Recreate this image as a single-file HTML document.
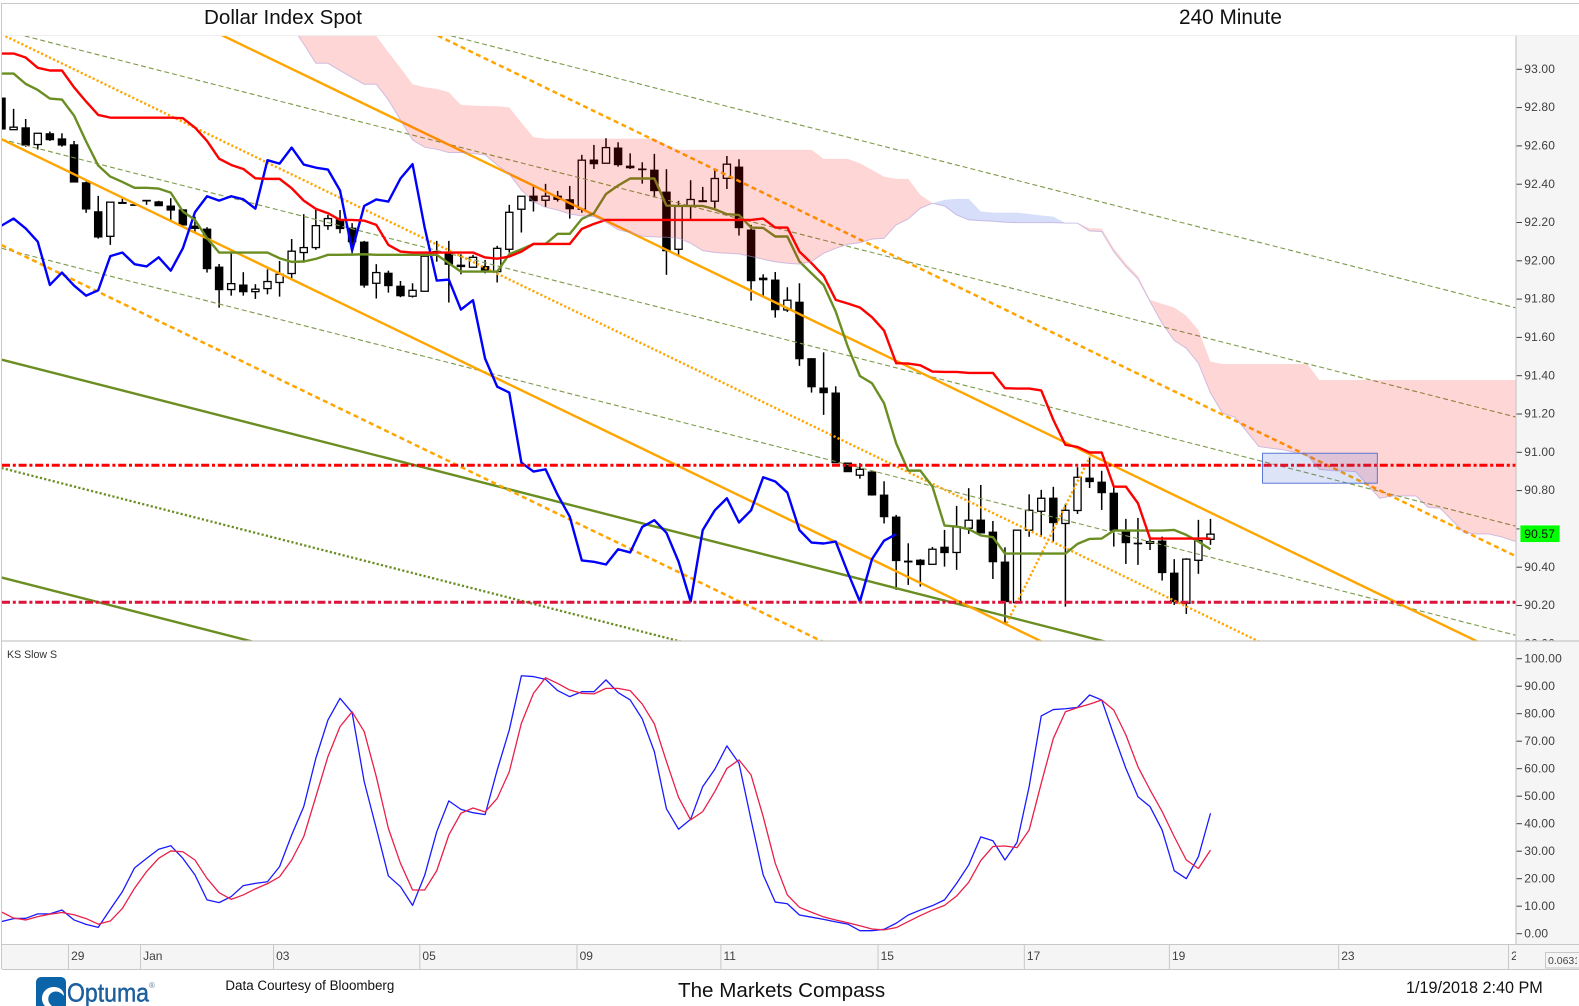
<!DOCTYPE html>
<html lang="en">
<head>
<meta charset="utf-8">
<title>Dollar Index Spot 240 Minute</title>
<style>
html,body{margin:0;padding:0;background:#fff;}
svg{display:block;font-family:"Liberation Sans",sans-serif;}
</style>
</head>
<body>
<svg id="chart" xmlns="http://www.w3.org/2000/svg" width="1579" height="1006" viewBox="0 0 1579 1006">
  <defs>
    <clipPath id="plotClip"><rect x="2" y="36" width="1514" height="605"/></clipPath>
    <clipPath id="stochClip"><rect x="2" y="642" width="1514" height="302"/></clipPath>
    <clipPath id="axisClip"><rect x="1516" y="36" width="63" height="605"/></clipPath>
    <clipPath id="timeClip"><rect x="2" y="945" width="1514" height="24"/></clipPath>
    <clipPath id="cornerClip"><rect x="1546" y="953" width="31" height="15"/></clipPath>
    <clipPath id="logoClip"><rect x="30" y="970" width="140" height="36"/></clipPath>
  </defs>
  <rect x="0" y="0" width="1579" height="1006" fill="#fff"/>
  <rect x="1516" y="36" width="63" height="908" fill="#f5f5f5"/>
  <rect x="2" y="944" width="1577" height="25" fill="#f5f5f5"/>
  <g id="plot" clip-path="url(#plotClip)"></g>
  <g id="stoch" clip-path="url(#stochClip)"></g>
  <g id="priceAxis" clip-path="url(#axisClip)"></g>
  <g id="stochAxis"></g>
  <g id="timeAxis" clip-path="url(#timeClip)"></g>
  <line x1="1.5" y1="3.5" x2="1579" y2="3.5" stroke="#c8c8c8"/>
  <line x1="1.5" y1="3" x2="1.5" y2="969" stroke="#c8c8c8"/>
  <line x1="2" y1="35.5" x2="1579" y2="35.5" stroke="#eeeeee"/>
  <line x1="2" y1="641" x2="1579" y2="641" stroke="#c8c8c8" stroke-width="1.2"/>
  <line x1="2" y1="944.5" x2="1579" y2="944.5" stroke="#c8c8c8"/>
  <line x1="2" y1="969.5" x2="1579" y2="969.5" stroke="#c8c8c8"/>
  <line x1="1516" y1="36" x2="1516" y2="944" stroke="#c8c8c8" stroke-width="1.2"/>
  <text x="204" y="24" font-size="20.6" fill="#111">Dollar Index Spot</text>
  <text x="1179" y="24" font-size="20.8" fill="#111">240 Minute</text>
  <text x="7" y="658" font-size="10.6" fill="#333">KS Slow S</text>
  <rect x="1520" y="525" width="40" height="17.5" fill="#00ff00" stroke="#fff" stroke-width="0.8"/>
  <text x="1524.3" y="538" font-size="12" letter-spacing="0.15" fill="#111">90.57</text>
  <rect x="1545.5" y="952.5" width="34" height="15.5" fill="#f5f5f5" stroke="#c8c8c8"/>
  <text x="1548" y="964" font-size="10.5" fill="#444" clip-path="url(#cornerClip)">0.0631</text>
  <g clip-path="url(#logoClip)">
    <rect x="36" y="977" width="30" height="34" rx="5" fill="#0b64a8"/>
    <path d="M45 1006 C38 998 44 986 55 987 C62 988 64 992 64 996 C60 991 54 990 50 994 C47 998 48 1003 52 1006 Z" fill="#fff"/>
    <text x="67" y="1001.5" font-size="26" fill="#1c5f9e" stroke="#1c5f9e" stroke-width="0.45" textLength="82" lengthAdjust="spacingAndGlyphs">Optuma</text>
    <text x="149" y="988" font-size="8" fill="#5a7f9e">®</text>
  </g>
  <text x="225.4" y="990" font-size="13.4" fill="#111">Data Courtesy of Bloomberg</text>
  <text x="678" y="997" font-size="20.6" fill="#111">The Markets Compass</text>
  <text x="1406" y="993" font-size="16.2" fill="#111">1/19/2018 2:40 PM</text>
</svg>
<script>
const opens=[92.856,92.691,92.700,92.613,92.669,92.642,92.611,92.412,92.260,92.132,92.309,92.297,92.320,92.312,92.290,92.270,92.185,92.169,91.970,91.853,91.876,91.842,91.858,91.890,91.937,92.047,92.073,92.188,92.218,92.174,92.101,91.886,91.938,91.870,91.818,91.844,92.052,92.040,91.980,91.970,91.973,91.947,92.064,92.274,92.342,92.321,92.342,92.323,92.274,92.531,92.515,92.594,92.499,92.484,92.478,92.363,92.064,92.290,92.318,92.316,92.436,92.494,92.164,91.912,91.902,91.746,91.786,91.490,91.336,91.310,90.943,90.880,90.896,90.775,90.660,90.429,90.434,90.413,90.502,90.475,90.602,90.644,90.581,90.424,90.212,90.592,90.691,90.759,90.627,90.695,90.864,90.843,90.785,90.585,90.523,90.523,90.534,90.366,90.209,90.434,90.544];
const highs=[92.856,92.800,92.747,92.672,92.681,92.672,92.632,92.419,92.344,92.311,92.332,92.297,92.320,92.318,92.332,92.274,92.235,92.180,91.987,92.043,91.944,91.881,91.959,92.003,92.118,92.248,92.270,92.244,92.270,92.201,92.108,91.986,91.952,91.898,91.886,92.028,92.108,92.108,92.038,92.035,92.008,92.082,92.297,92.342,92.398,92.407,92.370,92.396,92.559,92.611,92.646,92.625,92.567,92.520,92.564,92.484,92.318,92.426,92.391,92.480,92.553,92.536,92.192,91.933,91.945,91.865,91.886,91.493,91.524,91.346,90.946,90.943,90.904,90.848,90.672,90.523,90.440,90.504,90.593,90.719,90.812,90.829,90.640,90.502,90.592,90.780,90.803,90.819,90.730,90.922,90.978,90.903,90.820,90.651,90.656,90.550,90.558,90.440,90.445,90.646,90.651];
const lows=[92.695,92.691,92.602,92.587,92.632,92.602,92.414,92.255,92.120,92.087,92.305,92.295,92.297,92.293,92.218,92.192,92.157,91.942,91.758,91.821,91.821,91.804,91.828,91.816,91.912,91.994,92.061,92.166,92.148,92.043,91.863,91.806,91.837,91.813,91.811,91.844,91.999,91.785,91.933,91.968,91.938,91.890,92.047,92.152,92.262,92.286,92.314,92.225,92.256,92.485,92.515,92.497,92.485,92.408,92.335,91.930,92.029,92.221,92.314,92.279,92.380,92.136,91.795,91.818,91.706,91.736,91.453,91.313,91.196,90.946,90.899,90.862,90.773,90.627,90.279,90.305,90.296,90.413,90.401,90.384,90.572,90.576,90.336,90.104,90.209,90.557,90.558,90.530,90.191,90.677,90.813,90.698,90.506,90.415,90.410,90.488,90.328,90.200,90.153,90.363,90.515];
const closes=[92.695,92.704,92.611,92.672,92.639,92.611,92.417,92.276,92.129,92.311,92.305,92.295,92.319,92.293,92.270,92.192,92.174,91.963,91.853,91.884,91.842,91.855,91.895,91.933,92.054,92.073,92.188,92.225,92.173,92.104,91.877,91.942,91.874,91.821,91.849,92.028,92.047,91.986,91.974,92.022,91.952,92.069,92.258,92.342,92.319,92.342,92.326,92.277,92.531,92.513,92.597,92.508,92.492,92.482,92.372,92.057,92.291,92.325,92.314,92.435,92.510,92.178,91.900,91.905,91.748,91.797,91.491,91.344,91.313,90.946,90.899,90.911,90.777,90.663,90.433,90.426,90.412,90.492,90.475,90.609,90.644,90.578,90.427,90.218,90.592,90.696,90.759,90.632,90.696,90.869,90.847,90.789,90.592,90.527,90.522,90.532,90.370,90.218,90.440,90.537,90.571];
const kijunLine=[93.090,93.090,93.069,93.015,93.001,93.001,92.913,92.838,92.768,92.754,92.754,92.754,92.754,92.754,92.754,92.751,92.702,92.632,92.539,92.506,92.485,92.436,92.433,92.433,92.384,92.319,92.276,92.253,92.218,92.218,92.214,92.192,92.087,92.052,92.047,92.047,92.047,92.047,92.047,92.047,92.021,92.015,92.026,92.052,92.092,92.092,92.092,92.092,92.171,92.197,92.218,92.218,92.218,92.218,92.218,92.218,92.218,92.218,92.218,92.218,92.218,92.218,92.218,92.225,92.178,92.178,92.052,91.991,91.924,91.799,91.780,91.759,91.708,91.638,91.467,91.465,91.456,91.423,91.421,91.421,91.416,91.416,91.416,91.336,91.334,91.334,91.324,91.170,91.039,91.028,90.999,90.999,90.820,90.820,90.733,90.548,90.548,90.548,90.548,90.548,90.548];
const tenkanLine=[92.985,92.985,92.931,92.899,92.854,92.849,92.765,92.629,92.503,92.445,92.417,92.386,92.386,92.382,92.361,92.262,92.218,92.122,92.047,92.047,92.047,92.047,92.047,92.017,91.998,92.000,92.014,92.035,92.035,92.036,92.038,92.035,92.035,92.035,92.035,92.035,92.035,91.991,91.947,91.947,91.947,91.947,92.038,92.064,92.092,92.092,92.145,92.145,92.223,92.253,92.354,92.398,92.435,92.435,92.435,92.293,92.291,92.291,92.291,92.274,92.248,92.244,92.178,92.176,92.131,92.131,92.000,91.938,91.877,91.738,91.554,91.400,91.362,91.257,91.047,90.904,90.904,90.820,90.616,90.611,90.597,90.564,90.555,90.469,90.469,90.469,90.469,90.469,90.469,90.520,90.546,90.548,90.590,90.590,90.590,90.590,90.590,90.593,90.567,90.532,90.492];
const chikouLine=[92.188,92.225,92.173,92.104,91.877,91.942,91.874,91.821,91.849,92.028,92.047,91.986,91.974,92.022,91.952,92.069,92.258,92.342,92.319,92.342,92.326,92.277,92.531,92.513,92.597,92.508,92.492,92.482,92.372,92.057,92.291,92.325,92.314,92.435,92.510,92.178,91.900,91.905,91.748,91.797,91.491,91.344,91.313,90.946,90.899,90.911,90.777,90.663,90.433,90.426,90.412,90.492,90.475,90.609,90.644,90.578,90.427,90.218,90.592,90.696,90.759,90.632,90.696,90.869,90.847,90.789,90.592,90.527,90.522,90.532,90.370,90.218,90.440,90.537,90.571];
const cloudStartBar=24;
const spanA=[93.235,93.140,93.039,93.039,93.001,92.964,92.929,92.929,92.847,92.742,92.637,92.599,92.588,92.571,92.571,92.566,92.559,92.506,92.459,92.375,92.314,92.284,92.270,92.249,92.239,92.235,92.206,92.166,92.152,92.132,92.129,92.127,92.122,92.096,92.057,92.047,92.043,92.040,92.026,92.012,91.998,91.991,91.986,92.000,92.043,92.069,92.090,92.099,92.117,92.122,92.192,92.223,92.279,92.305,92.323,92.328,92.328,92.262,92.256,92.256,92.256,92.249,92.241,92.235,92.201,92.201,92.160,92.157,92.052,91.973,91.909,91.790,91.676,91.586,91.545,91.467,91.310,91.205,91.184,91.109,91.030,91.021,91.013,90.999,90.986,90.911,90.904,90.902,90.899,90.829,90.759,90.771,90.771,90.771,90.712,90.707,90.642,90.579,90.572,90.572,90.558,90.537,90.523];
const spanB=[93.266,93.266,93.266,93.266,93.266,93.266,93.266,93.182,93.097,93.015,92.929,92.913,92.905,92.887,92.821,92.817,92.815,92.814,92.808,92.728,92.651,92.644,92.644,92.644,92.644,92.644,92.644,92.644,92.644,92.644,92.644,92.611,92.585,92.585,92.585,92.585,92.585,92.585,92.585,92.585,92.585,92.585,92.585,92.585,92.538,92.538,92.538,92.515,92.480,92.445,92.433,92.433,92.349,92.305,92.291,92.244,92.218,92.214,92.211,92.206,92.204,92.204,92.204,92.204,92.201,92.201,92.174,92.173,92.069,91.991,91.924,91.799,91.778,91.759,91.715,91.641,91.475,91.463,91.463,91.463,91.463,91.463,91.463,91.463,91.463,91.379,91.379,91.379,91.379,91.379,91.379,91.379,91.379,91.379,91.379,91.379,91.379,91.379,91.379,91.379,91.379,91.379,91.379];
const stochK=[4.4,5.5,5.6,7.2,7.2,8.6,5.0,3.4,2.3,8.9,15.3,23.9,27.4,30.7,32.0,27.4,21.4,12.3,11.3,13.5,17.5,18.3,18.9,24.4,35.9,46.2,63.8,77.7,85.6,80.4,55.3,38.3,21.0,17.1,10.3,21.2,37.1,48.3,45.2,44.0,43.3,59.5,74.1,93.8,93.5,92.5,88.4,86.2,88.0,88.0,92.3,87.7,85.0,78.1,66.2,45.4,38.0,41.6,53.5,59.8,68.3,62.0,41.4,21.4,11.5,10.9,6.8,6.0,5.2,4.3,3.5,1.1,1.1,1.6,3.8,6.8,8.6,10.2,12.3,18.3,25.0,35.2,33.8,26.8,33.2,53.5,79.2,81.5,81.8,82.3,86.8,85.0,72.3,60.1,49.8,46.2,37.7,22.9,20.0,28.0,43.8];
const stochD=[7.9,5.7,5.0,6.2,7.1,7.7,6.9,5.5,3.5,4.6,9.2,16.5,22.6,27.4,30.1,29.8,26.8,20.1,14.9,12.5,14.1,16.3,18.2,20.7,26.8,35.3,49.8,64.4,75.3,80.7,73.5,57.1,38.3,25.6,15.9,15.9,22.9,35.9,43.8,45.7,44.3,49.2,58.9,76.5,87.4,93.1,91.0,88.6,87.4,87.2,89.2,89.2,88.4,83.5,76.3,62.6,49.6,41.4,44.4,51.7,60.1,63.2,57.7,42.6,25.6,14.1,9.6,7.8,6.1,5.0,4.0,2.9,1.7,1.4,2.2,4.4,6.6,8.6,10.3,13.7,18.7,26.6,31.7,31.9,31.3,37.7,54.7,71.0,80.7,82.2,83.5,85.0,81.3,72.3,60.7,52.3,44.4,35.3,26.8,23.7,30.4];
const priceTicks=[90.0,90.2,90.4,90.6,90.8,91.0,91.2,91.4,91.6,91.8,92.0,92.2,92.4,92.6,92.8,93.0];
const priceTickLabels=['90.00','90.20','90.40','','90.80','91.00','91.20','91.40','91.60','91.80','92.00','92.20','92.40','92.60','92.80','93.00'];
const stochTicks=[0,10,20,30,40,50,60,70,80,90,100];
const stochTickLabels=['0.00','10.00','20.00','30.00','40.00','50.00','60.00','70.00','80.00','90.00','100.00'];
const timeTickBars=[5.54,11.5,22.5,34.6,47.6,59.5,72.5,84.6,96.6,110.6,124.65];
const timeTickLabels=['29','Jan','03','05','09','11','15','17','19','23','25'];
const solidOrangeLines=[[0,92.641,130,88.663],[0,93.744,130,89.766]];
const dashedOrangeLines=[[0,94.288,130,90.310],[0,92.086,130,88.108]];
const dottedOrangeLines=[[0,93.191,130,89.213],[83.14,90.104,90.03,90.977]];
const dashedGreenLines=[[0,93.785,130,91.680],[0,93.213,130,91.108],[0,92.641,130,90.536],[0,92.069,130,89.964]];
const solidGreenLines=[[0,91.486,130,89.381],[0,90.344,130,88.239]];
const dottedGreenLines=[[0,90.918,130,88.813]];
const resistanceLevel=[90.932];
const supportLevel=[90.214];
const targetBox=[104.3,90.995,113.8,90.838];

function xBar(i){return 1.5+12.09*i;}
function yPrice(p){return 452.3+(91-p)*190.8;}
function yPriceTick(p){return 452.3+(91-p)*191.5;}
function yStoch(v){return 933.7-2.75*v;}
const NS='http://www.w3.org/2000/svg';
function make(parent,tag,attrs){
  const e=document.createElementNS(NS,tag);
  for(const k in attrs){e.setAttribute(k,attrs[k]);}
  parent.appendChild(e);
  return e;
}
function pts(values,yFn,start){
  return values.map(function(v,i){return xBar(i+start).toFixed(2)+','+yFn(v).toFixed(2);}).join(' ');
}
const plot=document.getElementById('plot');
const stoch=document.getElementById('stoch');
const priceAxis=document.getElementById('priceAxis');
const stochAxis=document.getElementById('stochAxis');
const timeAxis=document.getElementById('timeAxis');

closes.forEach(function(c,i){
  const o=opens[i];
  const up=c>o;
  const x=xBar(i);
  const wick=make(plot,'line',{x1:x,x2:x,y1:yPrice(highs[i]),y2:yPrice(lows[i]),stroke:'#000','stroke-width':1.5});
  
  
  const top=yPrice(Math.max(o,c));
  const bot=yPrice(Math.min(o,c));
  const body=make(plot,'rect',{x:x-3.6,y:top,width:7.2,height:Math.max(bot-top,0.4),fill:up?'#fff':'#000',stroke:'#000','stroke-width':1.3});
  
  
});

function drawTrends(list,style,name){
  list.forEach(function(t){
    const a=Object.assign({x1:xBar(t[0]),y1:yPrice(t[1]),x2:xBar(t[2]),y2:yPrice(t[3]),fill:'none'},style);
    const l=make(plot,'line',a);
    
    
  });
}
drawTrends(dashedGreenLines,{stroke:'#7d9a4a','stroke-width':1.1,'stroke-dasharray':'5 3'},'median-channel-line');
drawTrends(solidGreenLines,{stroke:'#6b8e23','stroke-width':2.4},'green-trend-line');
drawTrends(dottedGreenLines,{stroke:'#6b8e23','stroke-width':2.3,'stroke-dasharray':'2.2 2.2'},'green-dotted-trend-line');
drawTrends(solidOrangeLines,{stroke:'#ffa500','stroke-width':2.4},'orange-trend-line');
drawTrends(dashedOrangeLines,{stroke:'#ffa500','stroke-width':2.5,'stroke-dasharray':'5 3.5'},'orange-dashed-trend-line');
drawTrends(dottedOrangeLines,{stroke:'#ffa500','stroke-width':2.4,'stroke-dasharray':'2.2 2.2'},'orange-dotted-trend-line');

const chikouEl=make(plot,'polyline',{points:pts(chikouLine,yPrice,0),fill:'none',stroke:'#0000ff','stroke-width':2.4,'stroke-linejoin':'round'});


const tenkanEl=make(plot,'polyline',{points:pts(tenkanLine,yPrice,0),fill:'none',stroke:'#6b8e23','stroke-width':2.4,'stroke-linejoin':'round'});


const kijunEl=make(plot,'polyline',{points:pts(kijunLine,yPrice,0),fill:'none',stroke:'#ff0000','stroke-width':2.4,'stroke-linejoin':'round'});



const resEl=make(plot,'line',{x1:2,x2:1516,y1:yPrice(resistanceLevel[0]),y2:yPrice(resistanceLevel[0]),stroke:'#ff0000','stroke-width':3,'stroke-dasharray':'8 2.8 3 2.8'});


const supEl=make(plot,'line',{x1:2,x2:1516,y1:yPrice(supportLevel[0]),y2:yPrice(supportLevel[0]),stroke:'#dc143c','stroke-width':3,'stroke-dasharray':'8 2.8 3 2.8'});



function band(upper,lower){
  const top=upper.map(function(v,i){return xBar(i+cloudStartBar).toFixed(2)+','+yPrice(v).toFixed(2);});
  const bottom=lower.map(function(v,i){return xBar(i+cloudStartBar).toFixed(2)+','+yPrice(v).toFixed(2);}).reverse();
  return top.concat(bottom).join(' ');
}
const cloudLow=spanA.map(function(a,i){return Math.min(a,spanB[i]);});
const pinkEl=make(plot,'polygon',{points:band(spanB,cloudLow),fill:'rgba(255,0,0,0.16)'});


const blueEl=make(plot,'polygon',{points:band(spanA,cloudLow),fill:'rgba(0,50,220,0.16)'});


const edgeEl=make(plot,'polyline',{points:pts(cloudLow,yPrice,cloudStartBar),fill:'none',stroke:'rgba(170,150,215,0.55)','stroke-width':1});



const boxEl=make(plot,'rect',{x:xBar(targetBox[0]),y:yPrice(targetBox[1]),width:xBar(targetBox[2])-xBar(targetBox[0]),height:yPrice(targetBox[3])-yPrice(targetBox[1]),fill:'rgba(70,105,215,0.18)',stroke:'#5b78d8','stroke-width':1});



const kEl=make(stoch,'polyline',{points:pts(stochK,yStoch,0),fill:'none',stroke:'#1a1aff','stroke-width':1.3,'stroke-linejoin':'round'});


const dEl=make(stoch,'polyline',{points:pts(stochD,yStoch,0),fill:'none',stroke:'#e8204a','stroke-width':1.3,'stroke-linejoin':'round'});



priceTicks.forEach(function(p,i){
  const y=yPriceTick(p);
  const t=make(priceAxis,'line',{x1:1516,x2:1522,y1:y,y2:y,stroke:'#444','stroke-width':1});
  
  
  if(priceTickLabels[i]){
    const lab=make(priceAxis,'text',{x:1524.3,y:y+3.6,'font-size':12,'letter-spacing':0.15,fill:'#404040'});
    
    
    lab.textContent=priceTickLabels[i];
  }
});
stochTicks.forEach(function(v,i){
  const y=yStoch(v);
  const t=make(stochAxis,'line',{x1:1516,x2:1522,y1:y,y2:y,stroke:'#444','stroke-width':1});
  
  
  const lab=make(stochAxis,'text',{x:1524.3,y:y+4,'font-size':12,'letter-spacing':0.15,fill:'#404040'});
  
  
  lab.textContent=stochTickLabels[i];
});
timeTickBars.forEach(function(b,i){
  const x=xBar(b);
  const sep=make(timeAxis,'line',{x1:x,x2:x,y1:945,y2:969,stroke:'#c8c8c8','stroke-width':1});
  
  
  const lab=make(timeAxis,'text',{x:x+2.6,y:960,'font-size':12,fill:'#404040'});
  
  
  lab.textContent=timeTickLabels[i];
});
</script>
</body>
</html>
